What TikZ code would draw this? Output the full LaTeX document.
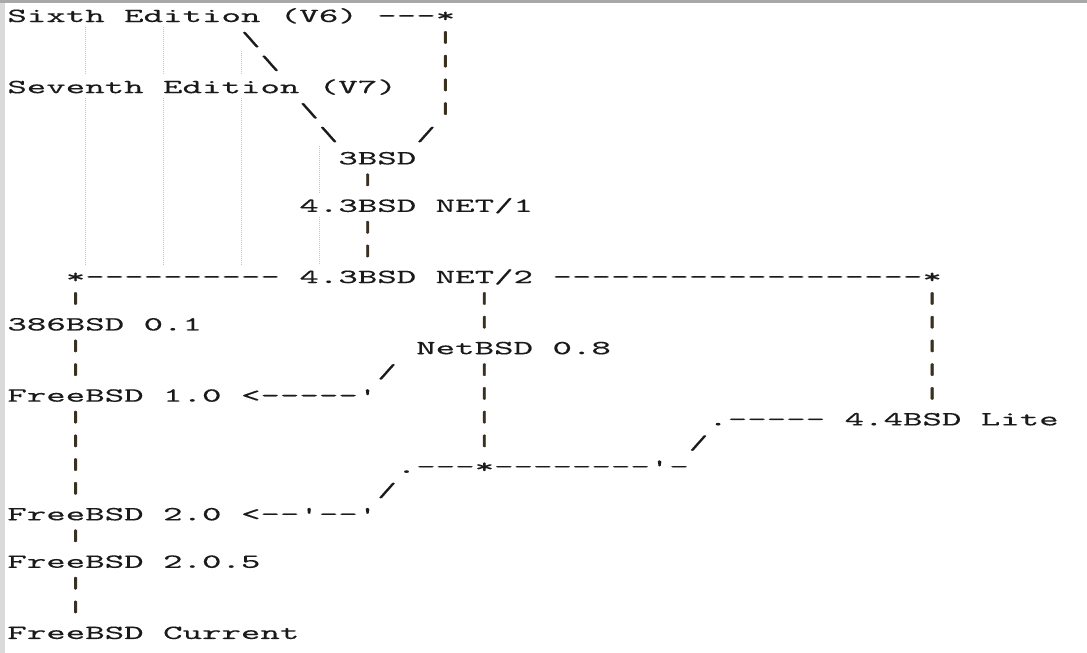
\documentclass[tikz,border=0pt]{standalone}
\usepackage{fontspec}
\usepackage{graphicx}
\newfontfamily\asciifont[FakeStretch=1.854,FakeBold=0.3,Ligatures=TeXOff]{lmmono10-regular.otf}
\newfontfamily\barfont[FakeStretch=1.854,FakeBold=2,Ligatures=TeXOff]{lmmono10-regular.otf}
\definecolor{ink}{HTML}{1A1A1A}
\definecolor{barink}{HTML}{3A3020}
\definecolor{guidegray}{HTML}{C4C4C4}
\definecolor{framegray}{HTML}{A8A8A8}
\definecolor{sidegray}{HTML}{DADADA}
\newcommand\vb{{\barfont\color{barink}\raisebox{3.4pt}{\scalebox{1}[0.8]{|}}}}
\newcommand\asc[3]{\node[txt] at ({7.4+#1*19.47},{22+#2*23.73}) {#3};}
\newcommand\lbl[4]{\node[txt] (#1) at ({7.4+#2*19.47},{22+#3*23.73}) {#4};}
\newcommand\guideline[3]{\draw[guide] ({7.9+#1*19.47},{22+#2*23.73-18.7}) -- ({7.9+#1*19.47},{22+#3*23.73+5});}
\begin{document}
\begin{tikzpicture}[x=1pt,y=-1pt,
  txt/.style={anchor=base west,inner sep=0pt,outer sep=0pt,
    font=\asciifont\fontsize{20}{24}\selectfont,text=ink},
  guide/.style={draw=guidegray,line width=0.9pt,dash pattern=on 1pt off 1pt}]
\useasboundingbox (0,0) rectangle (1087,653);
\fill[sidegray] (0,0) rectangle (5,653);
\draw[framegray,line width=2.5pt] (0,1.25) -- (1087,1.25);
% indent guides
\guideline{4}{1}{2} \guideline{4}{4}{10}
\guideline{8}{1}{2} \guideline{8}{4}{10}
\guideline{12}{2}{2} \guideline{12}{4}{10}
\guideline{16}{6}{7} \guideline{16}{9}{10}
% row 0-10
\lbl{v6}{0}{0}{Sixth Edition (V6)} \asc{19}{0}{---*}
\asc{12}{1}{\textbackslash} \asc{22}{1}{\vb}
\asc{13}{2}{\textbackslash} \asc{22}{2}{\vb}
\lbl{v7}{0}{3}{Seventh Edition (V7)} \asc{22}{3}{\vb}
\asc{15}{4}{\textbackslash} \asc{22}{4}{\vb}
\asc{16}{5}{\textbackslash} \asc{21}{5}{/}
\lbl{bsd3}{17}{6}{3BSD}
\asc{18}{7}{\vb}
\lbl{net1}{15}{8}{4.3BSD NET/1}
\asc{18}{9}{\vb}
\asc{18}{10}{\vb}
% row 11
\asc{3}{11}{*----------} \lbl{net2}{15}{11}{4.3BSD NET/2} \asc{28}{11}{-------------------*}
\asc{3}{12}{\vb} \asc{24}{12}{\vb} \asc{47}{12}{\vb}
\lbl{b386}{0}{13}{386BSD 0.1} \asc{24}{13}{\vb} \asc{47}{13}{\vb}
\asc{3}{14}{\vb} \lbl{netbsd}{21}{14}{NetBSD 0.8} \asc{47}{14}{\vb}
\asc{3}{15}{\vb} \asc{19}{15}{/} \asc{24}{15}{\vb} \asc{47}{15}{\vb}
\lbl{fb10}{0}{16}{FreeBSD 1.0} \asc{12}{16}{<-----'} \asc{24}{16}{\vb} \asc{47}{16}{\vb}
\asc{3}{17}{\vb} \asc{24}{17}{\vb} \asc{36}{17}{.-----} \lbl{lite}{43}{17}{4.4BSD Lite}
\asc{3}{18}{\vb} \asc{24}{18}{\vb} \asc{35}{18}{/}
\asc{3}{19}{\vb} \asc{20}{19}{.---*--------'-}
\asc{3}{20}{\vb} \asc{19}{20}{/}
\lbl{fb20}{0}{21}{FreeBSD 2.0} \asc{12}{21}{<--'--'}
\asc{3}{22}{\vb}
\lbl{fb205}{0}{23}{FreeBSD 2.0.5}
\asc{3}{24}{\vb}
\asc{3}{25}{\vb}
\lbl{fbcur}{0}{26}{FreeBSD Current}
\end{tikzpicture}
\end{document}
